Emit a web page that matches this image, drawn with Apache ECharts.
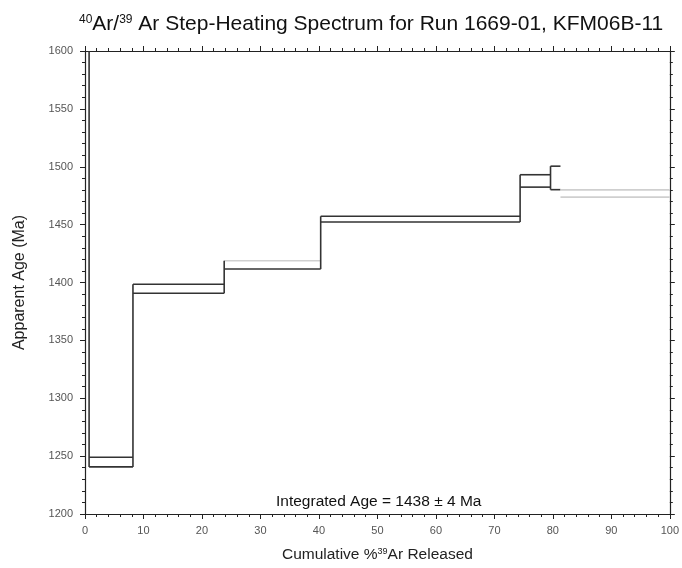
<!DOCTYPE html>
<html><head><meta charset="utf-8">
<script src="https://cdn.jsdelivr.net/npm/echarts@6/dist/echarts.min.js"></script>
<style>html,body{margin:0;padding:0;background:#fff}#c{width:682px;height:568px}</style>
</head><body><div id="c"></div>
<script>
// Step boundaries (cumulative % 39Ar released)
const stepStart = [0, 0.7, 8.2, 23.8, 40.3, 74.4, 79.6, 81.3];
const stepEnd   = [0.7, 8.2, 23.8, 40.3, 74.4, 79.6, 81.3, 100];
// Apparent age error envelope (Ma): lower and upper
const ageLow  = [1700, 1240.7, 1390.7, 1411.6, 1452.3, 1482.4, 1480.2, 1473.8];
const ageHigh = [1800, 1249.0, 1398.5, 1418.8, 1457.2, 1493.1, 1500.5, 1480.0];
// Tick labels
const xTicks = [0, 10, 20, 30, 40, 50, 60, 70, 80, 90, 100];
const yTicks = [1200, 1250, 1300, 1350, 1400, 1450, 1500, 1550, 1600];
const integratedAge = 1438, integratedErr = 4;

// style config (which edges are drawn in grey)
const greyTop = [false, false, false, true, false, false, false, true];
const greyBottom = [false, false, false, false, false, false, false, true];

const segs = [];
for (let i = 0; i < stepStart.length; i++) {
  segs.push([stepStart[i], ageHigh[i], stepEnd[i], ageHigh[i], greyTop[i] ? 1 : 0]);
  segs.push([stepStart[i], ageLow[i], stepEnd[i], ageLow[i], greyBottom[i] ? 1 : 0]);
  if (i > 0 && !(greyTop[i] && greyBottom[i])) {
    segs.push([stepStart[i], Math.min(ageLow[i], ageLow[i-1]), stepStart[i], Math.max(ageHigh[i], ageHigh[i-1]), 0]);
  }
}

const font = 'Liberation Sans, Arial, sans-serif';
const chart = echarts.init(document.getElementById('c'), null, {renderer: 'canvas'});
const axisCommon = {
  axisLine: {show: true, onZero: false, lineStyle: {color: '#222', width: 1.2}},
  axisTick: {show: true, inside: false, length: 5, lineStyle: {color: '#222', width: 1}},
  minorTick: {show: true, splitNumber: 5, length: 3, lineStyle: {color: '#222', width: 1}},
  splitLine: {show: false}
};
const plain = v => String(v);
chart.setOption({
  animation: false,
  backgroundColor: '#fff',
  title: {
    text: '{sup|40}Ar/{sup|39} Ar Step-Heating Spectrum for Run 1669-01, KFM06B-11',
    left: 74, top: 9,
    textStyle: {fontFamily: font, fontSize: 21, fontWeight: 'normal', color: '#111',
      rich: {sup: {fontFamily: font, fontSize: 12, verticalAlign: 'top', padding: [0,0,9,0], color: '#111'}}}
  },
  grid: {left: 85, right: 9, top: 51, bottom: 53},
  xAxis: [
    Object.assign({type: 'value', min: xTicks[0], max: xTicks[xTicks.length-1], interval: 10, position: 'bottom',
      name: 'Cumulative %{sup|39}Ar Released', nameLocation: 'middle', nameGap: 33,
      nameTextStyle: {fontFamily: font, fontSize: 15.5, color: '#222',
        rich: {sup: {fontFamily: font, fontSize: 9, verticalAlign: 'top', padding: [0,0,7,0], color: '#222'}}},
      axisLabel: {fontFamily: font, fontSize: 11, color: '#555', margin: 11, formatter: plain}}, axisCommon),
    Object.assign({type: 'value', min: 0, max: 100, interval: 10, position: 'top',
      axisLabel: {show: false}}, axisCommon)
  ],
  yAxis: [
    Object.assign({type: 'value', min: yTicks[0], max: yTicks[yTicks.length-1], interval: 50, position: 'left',
      name: 'Apparent Age (Ma)', nameLocation: 'middle', nameGap: 57,
      nameTextStyle: {fontFamily: font, fontSize: 16, color: '#222'},
      axisLabel: {fontFamily: font, fontSize: 11, color: '#555', margin: 12, formatter: plain}}, axisCommon),
    Object.assign({type: 'value', min: 1200, max: 1600, interval: 50, position: 'right',
      axisLabel: {show: false}}, axisCommon)
  ],
  graphic: [{
    type: 'text', left: 276, top: 494,
    style: {text: 'Integrated Age = ' + integratedAge + ' \u00b1 ' + integratedErr + ' Ma',
      fontFamily: font, fontSize: 15.5, fill: '#111'}
  }],
  series: [{
    type: 'custom',
    clip: true,
    xAxisIndex: 0, yAxisIndex: 0,
    data: segs,
    renderItem: function (params, api) {
      const p1 = api.coord([api.value(0), api.value(1)]);
      const p2 = api.coord([api.value(2), api.value(3)]);
      const grey = api.value(4) === 1;
      return {
        type: 'line',
        shape: {x1: p1[0], y1: p1[1], x2: p2[0], y2: p2[1]},
        style: {stroke: grey ? '#cfcfcf' : '#333', lineWidth: 1.6}
      };
    }
  }]
});
</script></body></html>
